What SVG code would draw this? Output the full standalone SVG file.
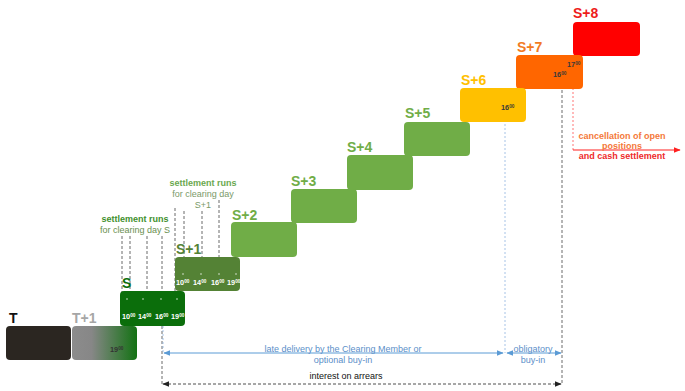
<svg xmlns="http://www.w3.org/2000/svg" width="685" height="391" viewBox="0 0 685 391">
<defs>
<linearGradient id="gT1" x1="0" y1="0" x2="1" y2="0">
<stop offset="0" stop-color="#8c8c8c"/>
<stop offset="0.3" stop-color="#878787"/>
<stop offset="1" stop-color="#137213"/>
</linearGradient>
<marker id="ab" viewBox="0 0 10 10" refX="9" refY="5" markerWidth="7" markerHeight="7" orient="auto-start-reverse" markerUnits="userSpaceOnUse"><path d="M0,1 L10,5 L0,9 z" fill="#5b9bd5"/></marker>
<marker id="ak" viewBox="0 0 10 10" refX="9" refY="5" markerWidth="7" markerHeight="7" orient="auto-start-reverse" markerUnits="userSpaceOnUse"><path d="M0,1 L10,5 L0,9 z" fill="#222"/></marker>
<marker id="ar" viewBox="0 0 10 10" refX="9" refY="5" markerWidth="7" markerHeight="7" orient="auto" markerUnits="userSpaceOnUse"><path d="M0,1 L10,5 L0,9 z" fill="#ff2020"/></marker>
</defs>
<style>
text{font-family:"Liberation Sans",Arial,sans-serif}
.lbl{font-size:14px;font-weight:bold}
.tm{font-size:7.3px;font-weight:bold;fill:#ffffff}
.sup{font-size:4.7px}
.dk{fill:#3a3a3a}
.run{stroke:#444;stroke-width:0.8;stroke-dasharray:3,2;fill:none}
.blue{font-size:9px;fill:#5b8fc9}
.dot{fill:#ffffff}
</style>

<g id="connectors">
<line class="run" x1="122" y1="236" x2="122" y2="346"/>
<line class="run" x1="130" y1="236" x2="130" y2="300"/>
<line class="run" x1="147" y1="236" x2="147" y2="300"/>
<line class="run" x1="162" y1="236" x2="162" y2="384"/>
<line class="run" x1="175" y1="208" x2="175" y2="300"/>
<line class="run" x1="184" y1="211" x2="184" y2="274"/>
<line class="run" x1="202" y1="211" x2="202" y2="274"/>
<line class="run" x1="219" y1="200" x2="219" y2="274"/>
<line x1="163" y1="326" x2="163" y2="353" stroke="#8fb4e0" stroke-width="0.8" stroke-dasharray="2,2"/>
<line x1="505" y1="112" x2="505" y2="353" stroke="#8fb4e0" stroke-width="0.8" stroke-dasharray="2,2"/>
<line class="run" x1="562" y1="80" x2="562" y2="384"/>
<line x1="573" y1="72" x2="573" y2="150" stroke="#ff5050" stroke-width="0.8" stroke-dasharray="2,2"/>
<line x1="164" y1="353" x2="503" y2="353" stroke="#5b9bd5" stroke-width="1" marker-start="url(#ab)" marker-end="url(#ab)"/>
<line x1="507" y1="353" x2="561" y2="353" stroke="#5b9bd5" stroke-width="1" marker-start="url(#ab)" marker-end="url(#ab)"/>
<line x1="163" y1="384" x2="561" y2="384" stroke="#222" stroke-width="0.8" stroke-dasharray="3,2" marker-start="url(#ak)" marker-end="url(#ak)"/>
<line x1="573" y1="150" x2="680" y2="150" stroke="#ff2020" stroke-width="1" marker-end="url(#ar)"/>
</g>

<g id="node-T">
<rect x="6" y="326" width="65" height="34" rx="4" fill="#2b2621"/>
<text class="lbl" x="9" y="323" fill="#111">T</text>
</g>
<g id="node-T1">
<rect x="72" y="326" width="65" height="34" rx="4" fill="url(#gT1)"/>
<text class="lbl" x="72" y="323" fill="#a6a6a6">T+1</text>
<text class="tm" x="110" y="352" style="fill:#333">19<tspan class="sup" dy="-2.5">00</tspan></text>
</g>
<g id="node-S8">
<rect x="573" y="22" width="67" height="34" rx="4" fill="#ff0000"/>
<text class="lbl" x="573" y="18" fill="#ee1c1c">S+8</text>
</g>
<g id="node-S7">
<rect x="516" y="55" width="67" height="34" rx="4" fill="#ff6600"/>
<text class="lbl" x="517" y="52" fill="#f27a22">S+7</text>
<text class="tm dk" x="567" y="67">17<tspan class="sup" dy="-2.5">00</tspan></text>
<text class="tm dk" x="553" y="77">16<tspan class="sup" dy="-2.5">00</tspan></text>
</g>
<g id="node-S6">
<rect x="460" y="88" width="66" height="34" rx="4" fill="#ffc000"/>
<text class="lbl" x="461" y="85" fill="#ffc000">S+6</text>
<text class="tm dk" x="501" y="110">16<tspan class="sup" dy="-2.5">00</tspan></text>
</g>
<g id="node-S5">
<rect x="404" y="122" width="66" height="34" rx="4" fill="#70ad47"/>
<text class="lbl" x="405" y="118" fill="#70ad47">S+5</text>
</g>
<g id="node-S4">
<rect x="347" y="155" width="66" height="35" rx="4" fill="#70ad47"/>
<text class="lbl" x="347" y="152" fill="#70ad47">S+4</text>
</g>
<g id="node-S3">
<rect x="291" y="189" width="66" height="34" rx="4" fill="#70ad47"/>
<text class="lbl" x="291" y="186" fill="#70ad47">S+3</text>
</g>
<g id="node-S2">
<rect x="231" y="222" width="66" height="35" rx="4" fill="#70ad47"/>
<text class="lbl" x="232" y="220" fill="#70ad47">S+2</text>
</g>
<g id="node-S1">
<rect x="175" y="257" width="65" height="34" rx="4" fill="#548235"/>
<text class="lbl" x="176" y="254" fill="#548235">S+1</text>
<circle class="dot" cx="183" cy="274" r="0.7"/><circle class="dot" cx="201" cy="274" r="0.7"/><circle class="dot" cx="219" cy="274" r="0.7"/><circle class="dot" cx="236" cy="274" r="0.7"/>
<text class="tm" x="176" y="285">10<tspan class="sup" dy="-2.5">00</tspan></text>
<text class="tm" x="193" y="285">14<tspan class="sup" dy="-2.5">00</tspan></text>
<text class="tm" x="211" y="285">16<tspan class="sup" dy="-2.5">00</tspan></text>
<text class="tm" x="227" y="285">19<tspan class="sup" dy="-2.5">00</tspan></text>
</g>
<g id="node-S">
<rect x="120" y="291" width="65" height="35" rx="4" fill="#0b6e0b"/>
<text class="lbl" x="122" y="288" fill="#0b6e0b">S</text>
<circle class="dot" cx="127" cy="299" r="0.7"/><circle class="dot" cx="143" cy="299" r="0.7"/><circle class="dot" cx="161" cy="299" r="0.7"/><circle class="dot" cx="177" cy="299" r="0.7"/>
<text class="tm" x="122" y="319">10<tspan class="sup" dy="-2.5">00</tspan></text>
<text class="tm" x="138" y="319">14<tspan class="sup" dy="-2.5">00</tspan></text>
<text class="tm" x="155" y="319">16<tspan class="sup" dy="-2.5">00</tspan></text>
<text class="tm" x="171" y="319">19<tspan class="sup" dy="-2.5">00</tspan></text>
</g>

<g id="labels">
<text x="135" y="222" text-anchor="middle" font-size="9" font-weight="bold" fill="#3f8f2e">settlement runs</text>
<text x="135" y="233" text-anchor="middle" font-size="9" fill="#6a8f50">for clearing day S</text>
<text x="203" y="186" text-anchor="middle" font-size="9" font-weight="bold" fill="#6aa84f">settlement runs</text>
<text x="203" y="197" text-anchor="middle" font-size="9" fill="#7a9a68">for clearing day</text>
<text x="203" y="208" text-anchor="middle" font-size="9" fill="#7a9a68">S+1</text>
<text class="blue" x="343" y="352" text-anchor="middle">late delivery by the Clearing Member or</text>
<text class="blue" x="343" y="363" text-anchor="middle">optional buy-in</text>
<text class="blue" x="533" y="352" text-anchor="middle">obligatory</text>
<text class="blue" x="533" y="363" text-anchor="middle">buy-in</text>
<text x="346" y="379" text-anchor="middle" font-size="9" fill="#111">interest on arrears</text>
<text x="622" y="139" text-anchor="middle" font-size="9" font-weight="bold" fill="#f4793a">cancellation of open</text>
<text x="622" y="149" text-anchor="middle" font-size="9" font-weight="bold" fill="#f4793a">positions</text>
<text x="622" y="159" text-anchor="middle" font-size="9" font-weight="bold" fill="#ee2a2a">and cash settlement</text>
</g>
</svg>
